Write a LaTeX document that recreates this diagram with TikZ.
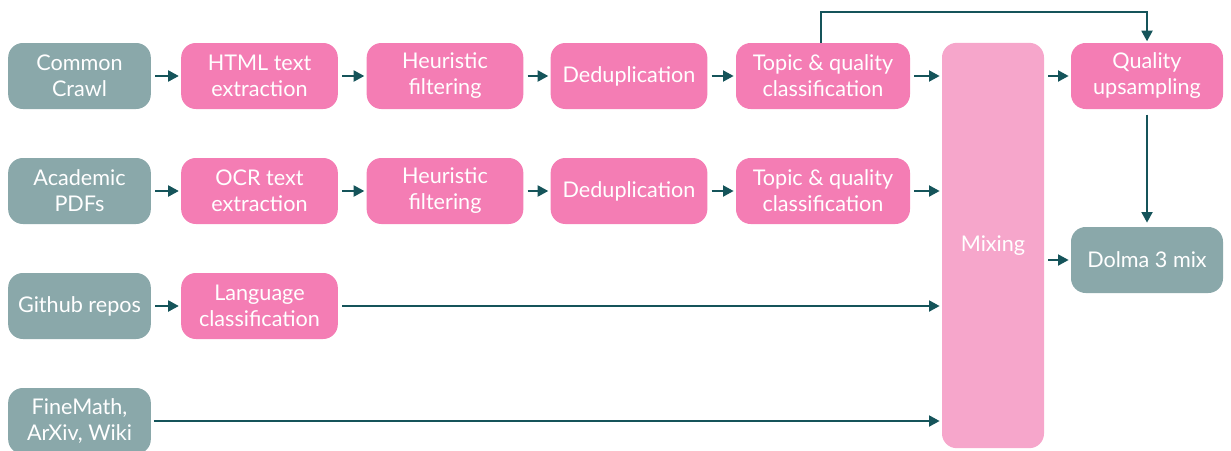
\documentclass[tikz,border=0pt]{standalone}
\usepackage{fontspec}
\setmainfont{Lato}
\usetikzlibrary{arrows.meta}
\definecolor{srcgrey}{HTML}{8AA8AA}
\definecolor{procpink}{HTML}{F47DB4}
\definecolor{mixpink}{HTML}{F6A6CB}
\definecolor{arrowteal}{HTML}{15545A}
\tikzset{
  box/.style={rounded corners=11pt, align=center, text=white, inner sep=0pt,
    font=\fontsize{16.2}{19.5}\selectfont, minimum height=49.5pt},
  srcbox/.style={box, fill=srcgrey, minimum width=107pt},
  procbox/.style={box, fill=procpink, minimum width=117.5pt},
  conn/.style={draw=arrowteal, line width=2.2pt, -{Triangle[length=8pt,width=8pt]}},
}
\begin{document}
\begin{tikzpicture}[x=0.75pt,y=-0.75pt]
\useasboundingbox (0,0) rectangle (1231,450);
\clip (0,0) rectangle (1231,450);
% sources
\node[srcbox] (cc) at (79.5,76) {Common\\Crawl};
\node[srcbox] (pdf) at (79.5,191) {Academic\\PDFs};
\node[srcbox] (gh) at (79.5,306) {Github repos};
\node[srcbox] (fm) at (79.5,421) {FineMath,\\ArXiv, Wiki};
% row 1
\node[procbox] (html) at (259.5,76) {HTML text\\extraction};
\node[procbox] (hf1) at (445,76) {Heuristic\\filtering};
\node[procbox] (dd1) at (629,76) {Deduplication};
\node[procbox, minimum width=130.5pt] (tq1) at (823,76) {Topic \& quality\\classification};
% row 2
\node[procbox] (ocr) at (259.5,191) {OCR text\\extraction};
\node[procbox] (hf2) at (445,191) {Heuristic\\filtering};
\node[procbox] (dd2) at (629,191) {Deduplication};
\node[procbox, minimum width=130.5pt] (tq2) at (823,191) {Topic \& quality\\classification};
% row 3
\node[procbox] (lang) at (259.5,306) {Language\\classification};
% mixing
\node[box, fill=mixpink, minimum width=76.5pt, minimum height=304pt] (mix) at (993,245.5) {Mixing};
% right
\node[procbox, minimum width=114pt] (qu) at (1147,76) {Quality\\upsampling};
\node[srcbox, minimum width=114pt] (dolma) at (1147,260) {Dolma 3 mix};
% connectors
\foreach \a/\b in {cc/html,html/hf1,hf1/dd1,dd1/tq1,pdf/ocr,ocr/hf2,hf2/dd2,dd2/tq2,gh/lang}
  \draw[conn, shorten <=3pt, shorten >=1.5pt] (\a.east) -- (\b.west);
\draw[conn, shorten <=3pt, shorten >=1.5pt] (tq1.east) -- (tq1.east -| mix.west);
\draw[conn, shorten <=3pt, shorten >=1.5pt] (tq2.east) -- (tq2.east -| mix.west);
\draw[conn, shorten <=3pt, shorten >=1.5pt] (lang.east) -- (lang.east -| mix.west);
\draw[conn, shorten <=2pt, shorten >=1.5pt] (fm.east) -- (fm.east -| mix.west);
\draw[conn, shorten <=3pt, shorten >=1.5pt] (mix.east |- qu.west) -- (qu.west);
\draw[conn, shorten <=3pt, shorten >=1.5pt] (mix.east |- dolma.west) -- (dolma.west);
\coordinate (topl) at (821,12);
\draw[conn, shorten >=1pt] (tq1.north -| topl) -- (topl) -| (qu.north);
\draw[conn, shorten <=4pt, shorten >=3pt] (qu.south) -- (dolma.north);
\end{tikzpicture}
\end{document}
